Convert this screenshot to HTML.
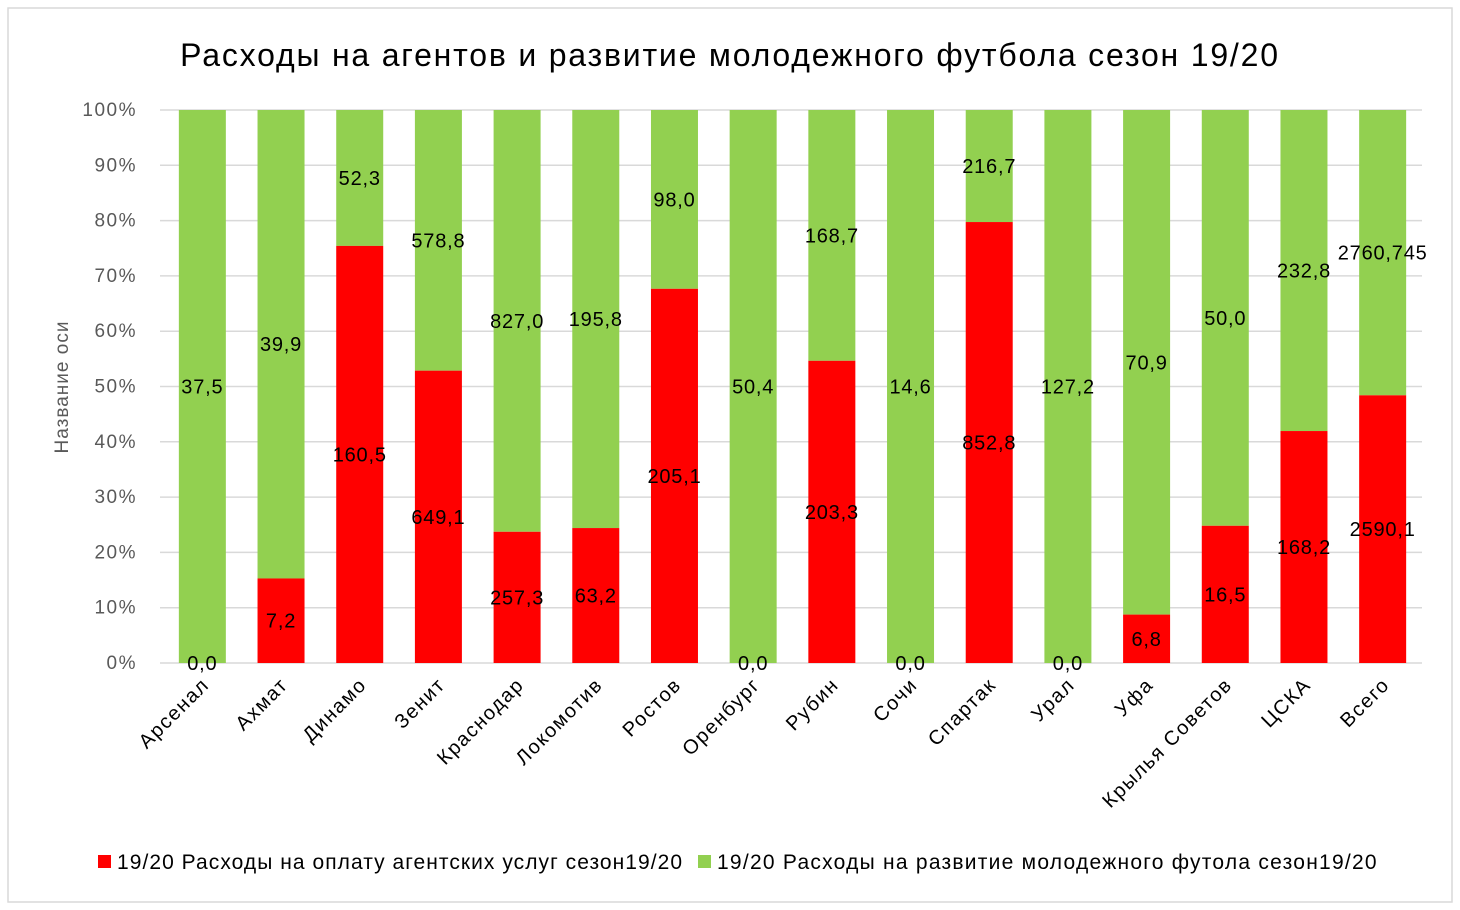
<!DOCTYPE html>
<html><head><meta charset="utf-8"><style>
body{margin:0;background:#fff;}
svg{display:block;font-family:"Liberation Sans","DejaVu Sans",sans-serif;}
</style></head><body>
<svg id="chart" width="1460" height="910">
<rect x="8" y="8" width="1444" height="894" fill="#fff" stroke="#d9d9d9" stroke-width="1.5"/>
<text x="730" y="66" text-anchor="middle" font-size="32" letter-spacing="1.8" fill="#000">Расходы на агентов и развитие молодежного футбола сезон 19/20</text>
<text transform="translate(68,387) rotate(-90)" text-anchor="middle" font-size="19" letter-spacing="1" fill="#595959">Название оси</text>
<g id="grid"></g><g id="bars"></g><g id="labels"></g><g id="xlabels"></g>
<g>
<rect x="98" y="855" width="13" height="13" fill="#ff0000"/>
<text x="117" y="869" font-size="21" letter-spacing="1.05" fill="#000">19/20 Расходы на оплату агентских услуг сезон19/20</text>
<rect x="698" y="855" width="13" height="13" fill="#92d050"/>
<text x="717" y="869" font-size="21" letter-spacing="1.25" fill="#000">19/20 Расходы на развитие молодежного футола сезон19/20</text>
</g>
</svg>
<script>
const categories=["Арсенал","Ахмат","Динамо","Зенит","Краснодар","Локомотив","Ростов","Оренбург","Рубин","Сочи","Спартак","Урал","Уфа","Крылья Советов","ЦСКА","Всего"];
const agents=[0,7.2,160.5,649.1,257.3,63.2,205.1,0,203.3,0,852.8,0,6.8,16.5,168.2,2590.1];
const youth=[37.5,39.9,52.3,578.8,827.0,195.8,98.0,50.4,168.7,14.6,216.7,127.2,70.9,50.0,232.8,2760.745];
const yTicks=[0,10,20,30,40,50,60,70,80,90,100];
const NS="http://www.w3.org/2000/svg";
const X0=163,X1=1422,Y0=663,Y1=110,BW=47;
const step=(X1-X0)/categories.length;
const xc=i=>X0+step*(i+0.5);
const y=p=>Y0-(Y0-Y1)*p/100;
function fmt(v){let s=String(v);let d=s.includes('.')?s.split('.')[1].length:0;return v.toFixed(Math.max(1,d)).replace('.',',');}
function mk(tag,attrs,parent,text){const e=document.createElementNS(NS,tag);for(const k in attrs)e.setAttribute(k,attrs[k]);if(text!==undefined)e.textContent=text;parent.appendChild(e);return e;}
const grid=document.getElementById('grid'),bars=document.getElementById('bars'),labels=document.getElementById('labels'),xl=document.getElementById('xlabels');
yTicks.forEach(t=>{
 const l=mk('line',{x1:160,x2:X1,y1:y(t),y2:y(t),stroke:'#d9d9d9','stroke-width':1.5},grid);
 
 
 const tx=mk('text',{x:137,y:y(t)+6,'text-anchor':'end','font-size':19,'letter-spacing':1.5,fill:'#595959'},grid,t+'%');
 
 
});
categories.forEach((c,i)=>{
 const tot=agents[i]+youth[i];
 const pa=tot?agents[i]/tot*100:0;
 const x=xc(i)-BW/2;
 const g=mk('rect',{x:x,y:y(100),width:BW,height:y(pa)-y(100),fill:'#92d050'},bars);
 
 
 const r=mk('rect',{x:x,y:y(pa),width:BW,height:Y0-y(pa),fill:'#ff0000'},bars);
 
 
 const la=mk('text',{x:xc(i),y:y(pa/2)+7,'text-anchor':'middle','font-size':20,'letter-spacing':0.8,fill:'#000'},labels,fmt(agents[i]));
 
 
 const ly=mk('text',{x:xc(i),y:y(pa+(100-pa)/2)+7,'text-anchor':'middle','font-size':20,'letter-spacing':0.8,fill:'#000'},labels,fmt(youth[i]));
 
 
 const xt=mk('text',{transform:`translate(${xc(i)+8},${686}) rotate(-45)`,'text-anchor':'end','font-size':20,'letter-spacing':1.5,fill:'#000'},xl,c);
 
 
});
</script>
</body></html>
